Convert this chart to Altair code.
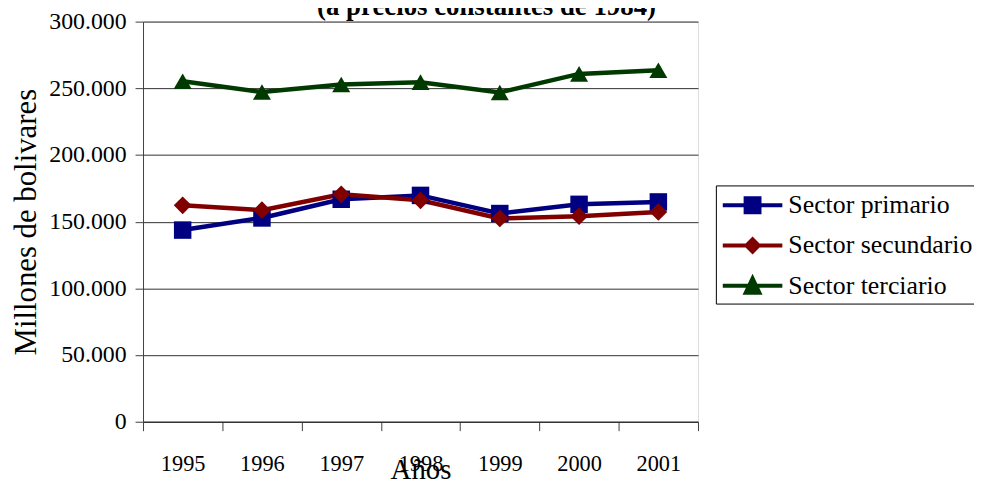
import altair as alt
import pandas as pd

title_text = "(a precios constantes de 1984)"
years = ["1995", "1996", "1997", "1998", "1999", "2000", "2001"]
series = ["Sector primario", "Sector secundario", "Sector terciario"]
primario = [143700, 152800, 166800, 169700, 156100, 163000, 164800]
secundario = [162300, 158600, 170500, 166000, 152400, 154100, 157300]
terciario = [255300, 247200, 252900, 254600, 246900, 260800, 263500]
colors = ["#000080", "#800000", "#003a00"]
shapes = ["square", "diamond", "triangle-up"]
marker_sizes = [310, 330, 430]
y_ticks = [0, 50000, 100000, 150000, 200000, 250000, 300000]

# legend symbols: line segment + marker (unit = 15 px)
legend_shapes = [
    "M-0.87,-0.13H3.13V0.13H-0.87Z M0.53,-0.6H1.73V0.6H0.53Z",
    "M-0.87,-0.13H3.13V0.13H-0.87Z M1.13,-0.6L1.73,0L1.13,0.6L0.53,0Z",
    "M-0.87,-0.13H3.13V0.13H-0.87Z M1.13,-0.8L1.8,0.6L0.46,0.6Z",
]

rows = []
for name, vals in zip(series, [primario, secundario, terciario]):
    for yr, v in zip(years, vals):
        rows.append({"Año": yr, "Serie": name, "valor": v})
df = pd.DataFrame(rows)

font = "Liberation Serif"

x = alt.X("Año:N", sort=years, title="Años",
          scale=alt.Scale(paddingInner=0, paddingOuter=0),
          axis=alt.Axis(tickBand="extent", labelAngle=0, labelFontSize=22.5,
                        labelFont=font, labelColor="black", labelPadding=22,
                        tickSize=9, tickColor="#404040", domainColor="#202020",
                        domainWidth=1, grid=False, titleFont=font, titleFontSize=29,
                        titleFontWeight="normal", titleColor="black",
                        titleY=57, titleBaseline="alphabetic"))
y = alt.Y("valor:Q", title="Millones de bolivares",
          scale=alt.Scale(domain=[0, 300000], nice=False),
          axis=alt.Axis(values=y_ticks, format=",.0f", labelFontSize=24, labelFont=font,
                        labelColor="black", labelPadding=9, tickSize=8,
                        tickColor="#404040", domainColor="#404040",
                        gridColor={"condition": {"test": "datum.value === 300000",
                                                 "value": "#808080"},
                                   "value": "#303030"},
                        gridWidth={"condition": {"test": "datum.value === 300000",
                                                 "value": 2},
                                   "value": 1},
                        titleFont=font,
                        titleFontSize=31, titleFontWeight="normal",
                        titleColor="black", titlePadding=6))

color_scale = alt.Scale(domain=series, range=colors)

base = alt.Chart(df)

lines = base.mark_line(strokeWidth=4.5).encode(
    x=x, y=y, color=alt.Color("Serie:N", scale=color_scale, legend=None),
    detail="Serie:N")

points = base.mark_point(filled=True, opacity=1, strokeWidth=0).encode(
    x=x, y=y,
    color=alt.Color("Serie:N", scale=color_scale, legend=None),
    shape=alt.Shape("Serie:N", scale=alt.Scale(domain=series, range=shapes), legend=None),
    size=alt.Size("Serie:N", scale=alt.Scale(domain=series, range=marker_sizes), legend=None))

leg = alt.Legend(title=None, orient="none", legendX=577, legendY=165,
                 symbolSize=900, symbolStrokeWidth=0, labelOffset=38,
                 rowPadding=12.5, padding=5, strokeColor="black", fillColor="white",
                 labelBaseline="middle", symbolOpacity=1, labelLimit=400,
                 labelFont=font, labelFontSize=26, labelColor="black")

legend_layer = base.transform_filter("datum.valor < 0").mark_point(
    filled=True, strokeWidth=0).encode(
    x=x, y=y,
    color=alt.Color("Serie:N", scale=color_scale, legend=leg),
    shape=alt.Shape("Serie:N", scale=alt.Scale(domain=series, range=legend_shapes),
                    legend=leg))

title_layer = alt.Chart(pd.DataFrame({"t": [title_text]})).mark_text(
    font=font, fontSize=27, fontWeight="bold", color="black",
    align="center", baseline="alphabetic").encode(
    text="t:N", x=alt.value(346), y=alt.value(-7))

chart = alt.layer(lines, points, legend_layer, title_layer).resolve_scale(
    color="independent", shape="independent"
).properties(
    width=559, height=403,
    autosize=alt.AutoSizeParams(type="none"),
    padding={"left": 136, "top": 12, "right": 278, "bottom": 60},
).configure_view(
    fill="#c0c0c0", stroke="#808080", strokeWidth=2
).configure_legend(
    labelFont=font, labelFontSize=26, labelColor="black", labelLimit=400
).configure(
    background="white", font=font,
    style={"guide-label": {"font": font, "fill": "black"},
           "guide-title": {"font": font, "fill": "black"}},
)

chart.save("out.html", embed_options={
    "renderer": "svg", "actions": False,
    "formatLocale": {"decimal": ",", "thousands": ".", "grouping": [3], "currency": ["", ""]},
})
